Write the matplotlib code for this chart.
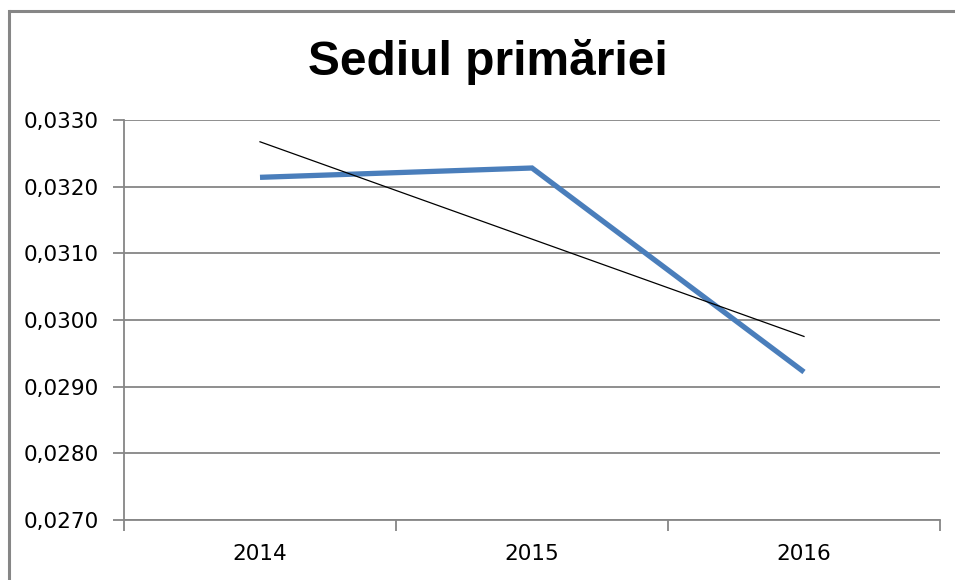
import numpy as np
import matplotlib
matplotlib.use("Agg")
import matplotlib.pyplot as plt
from matplotlib.ticker import FuncFormatter, FixedLocator
from matplotlib.lines import Line2D

years = ["2014", "2015", "2016"]
values = [0.03214, 0.03228, 0.02922]
y_ticks = [0.0270, 0.0280, 0.0290, 0.0300, 0.0310, 0.0320, 0.0330]
title = "Sediul primăriei"

GRID = "#868686"
BLUE = "#4A7EBB"
W, H = 955, 580

fig = plt.figure(figsize=(W / 100, H / 100), dpi=100)
fig.patch.set_facecolor("white")

# outer chart frame (left and top edges)
fx, fy = 8.5 / W, 1 - 10.5 / H
fig.add_artist(Line2D([fx, fx], [0, fy], transform=fig.transFigure,
                      color=GRID, linewidth=2.2, solid_capstyle="projecting"))
fig.add_artist(Line2D([fx, 1.0], [fy, fy], transform=fig.transFigure,
                      color=GRID, linewidth=2.2, solid_capstyle="butt"))

ax = fig.add_axes([124 / W, 60 / H, (940 - 124) / W, 400 / H])

x = np.arange(len(years))
ax.plot(x, values, color=BLUE, linewidth=3.8, solid_capstyle="butt",
        solid_joinstyle="miter", zorder=3)

# linear trend line over the data range
slope, intercept = np.polyfit(x, values, 1)
xt = np.array([x[0], x[-1]])
ax.plot(xt, slope * xt + intercept, color="black", linewidth=0.9, zorder=4)

ax.set_xlim(-0.5, len(years) - 0.5)
ax.set_ylim(y_ticks[0], y_ticks[-1])
ax.set_yticks(y_ticks)
ax.yaxis.set_major_formatter(FuncFormatter(lambda v, p: f"{v:.4f}".replace(".", ",")))
ax.set_xticks(x)
ax.set_xticklabels(years)
ax.xaxis.set_minor_locator(FixedLocator(np.arange(-0.5, len(years), 1.0)))

ax.grid(axis="y", color=GRID, linewidth=1.3)
ax.set_axisbelow(True)
for s in ("top", "right"):
    ax.spines[s].set_visible(False)
for s in ("left", "bottom"):
    ax.spines[s].set_color(GRID)
    ax.spines[s].set_linewidth(1.3)

ax.tick_params(axis="y", length=8, width=1.3, color=GRID, pad=10,
               labelsize=15.5, labelcolor="black")
ax.tick_params(axis="x", which="major", length=0, pad=17,
               labelsize=15.5, labelcolor="black")
ax.tick_params(axis="x", which="minor", length=8, width=1.3, color=GRID)

fig.text(487.5 / W, 1 - 75 / H, title, ha="center", va="baseline",
         fontsize=34.5, fontweight="bold", color="black",
         family=["Liberation Sans", "DejaVu Sans"])

fig.savefig("out.png", dpi=100, facecolor="white")
